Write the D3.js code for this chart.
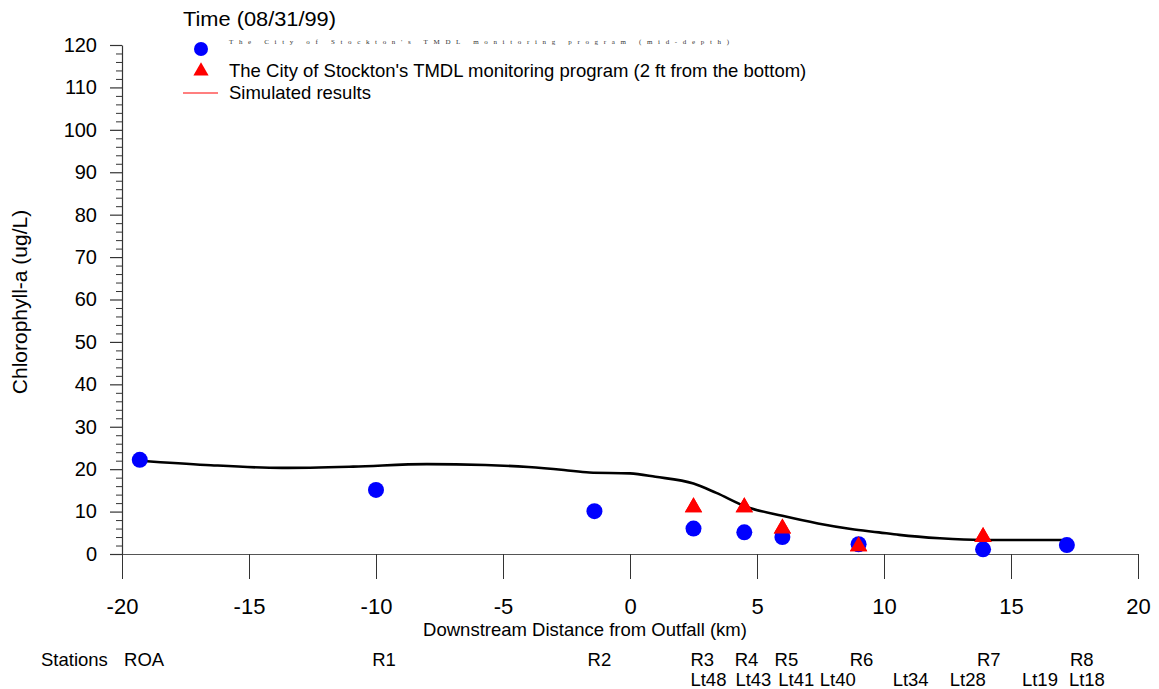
<!DOCTYPE html>
<html>
<head>
<meta charset="utf-8">
<script src="https://cdn.jsdelivr.net/npm/d3@7"></script>
<style>
  html, body { margin: 0; padding: 0; background: #fff; }
  svg { display: block; font-family: "Liberation Sans", Arial, sans-serif; }
</style>
</head>
<body>
<svg id="chart" width="1159" height="689"></svg>
<script>
// Observed chlorophyll-a, mid-depth samples (km downstream of outfall, ug/L)
const midDepthKm  = [-19.3, -10.0, -1.4, 2.5, 4.5, 6.0, 9.0, 13.9, 17.2];
const midDepthChl = [22.2, 15.1, 10.1, 6.0, 5.1, 4.0, 2.3, 1.1, 2.1];

// Observed chlorophyll-a, 2 ft from the bottom
const bottomKm  = [2.5, 4.5, 6.0, 9.0, 13.9];
const bottomChl = [11.0, 11.0, 6.0, 1.8, 4.0];

// Simulated chlorophyll-a profile
const simKm  = [-19.3, -16.7, -13.7, -10.9, -8.0, -5.7, -4.0, -2.6, -1.6, 0.0, 1.0, 2.5, 3.4, 4.6, 6.0, 7.4, 8.7, 9.8, 10.6, 12.2, 13.8, 17.2];
const simChl = [22.0, 21.0, 20.3, 20.6, 21.2, 21.0, 20.5, 19.8, 19.2, 19.0, 18.2, 16.6, 14.4, 11.1, 9.0, 7.2, 5.9, 5.1, 4.5, 3.7, 3.3, 3.3];

// Axis ticks
const xTicks = [-20, -15, -10, -5, 0, 5, 10, 15, 20];
const yTicks = [0, 10, 20, 30, 40, 50, 60, 70, 80, 90, 100, 110, 120];

// Station names along the river (label position in km)
const stationTop    = ["ROA", "R1", "R2", "R3", "R4", "R5", "R6", "R7", "R8"];
const stationTopKm  = [-19.92, -10.15, -1.67, 2.38, 4.12, 5.69, 8.65, 13.66, 17.32];
const stationBot    = ["Lt48", "Lt43", "Lt41", "Lt40", "Lt34", "Lt28", "Lt19", "Lt18"];
const stationBotKm  = [2.38, 4.15, 5.84, 7.47, 10.34, 12.59, 15.43, 17.28];

const svg = d3.select("#chart");

const x = d3.scaleLinear().domain([-20, 20]).range([122, 1138]);
const y = d3.scaleLinear().domain([0, 120]).range([554, 45]);

// plain ASCII hyphen for negative numbers
const fmt = d => String(d);

// ---- Y axis: major + minor ticks ----
const yMinor = d3.range(0, 121, 2).filter(v => v % 10 !== 0);
const gyMinor = svg.append("g").attr("transform", "translate(122,0)")
  .call(d3.axisLeft(y).tickValues(yMinor).tickSize(6).tickFormat(""));
gyMinor.select(".domain").remove();
gyMinor.selectAll("line").attr("stroke", "#333").attr("stroke-width", 1);

const gy = svg.append("g").attr("transform", "translate(122,0)")
  .call(d3.axisLeft(y).tickValues(yTicks).tickFormat(fmt).tickSize(12).tickSizeOuter(0).tickPadding(13));
gy.select(".domain").attr("stroke", "#333").attr("stroke-width", 1.2);
gy.selectAll("line").attr("stroke", "#333").attr("stroke-width", 1.2);
gy.selectAll("text").attr("font-size", 20).attr("fill", "#000")
  .attr("font-family", "Liberation Sans, Arial, sans-serif");

// ---- X axis: horizontal line at zero, ticks hanging below ----
const gx = svg.append("g").attr("transform", "translate(0,554)")
  .call(d3.axisBottom(x).tickValues(xTicks).tickFormat(fmt).tickSize(25).tickSizeOuter(0).tickPadding(19));
gx.select(".domain").attr("stroke", "#555").attr("stroke-width", 1.2);
gx.selectAll("line").attr("stroke", "#333").attr("stroke-width", 1);
gx.selectAll("text").attr("font-size", 22).attr("fill", "#000")
  .attr("font-family", "Liberation Sans, Arial, sans-serif");

// Axis titles
svg.append("text")
  .attr("x", 585).attr("y", 636)
  .attr("text-anchor", "middle").attr("font-size", 18.5)
  .text("Downstream Distance from Outfall (km)");

svg.append("text")
  .attr("transform", "translate(27,302) rotate(-90)")
  .attr("text-anchor", "middle").attr("font-size", 21)
  .text("Chlorophyll-a (ug/L)");

// ---- Stations ----
svg.append("text").attr("x", 41).attr("y", 666).attr("font-size", 18.5).text("Stations");
svg.append("g").selectAll("text").data(stationTop).join("text")
  .attr("x", (d, i) => x(stationTopKm[i])).attr("y", 666)
  .attr("font-size", 18.5).text(d => d);
svg.append("g").selectAll("text").data(stationBot).join("text")
  .attr("x", (d, i) => x(stationBotKm[i])).attr("y", 686)
  .attr("font-size", 18.5).text(d => d);

// ---- Simulated line ----
const simData = simKm.map((k, i) => [k, simChl[i]]);
svg.append("path")
  .datum(simData)
  .attr("fill", "none")
  .attr("stroke", "#000")
  .attr("stroke-width", 2.6)
  .attr("stroke-linejoin", "round")
  .attr("d", d3.line().x(d => x(d[0])).y(d => y(d[1])).curve(d3.curveMonotoneX));

// ---- Observations ----
const tri = d3.symbol().type(d3.symbolTriangle).size(130);
svg.append("g").selectAll("path").data(bottomKm).join("path")
  .attr("d", tri)
  .attr("transform", (d, i) => `translate(${x(d)},${y(bottomChl[i])})`)
  .attr("fill", "#ff0000");

svg.append("g").selectAll("circle").data(midDepthKm).join("circle")
  .attr("cx", d => x(d))
  .attr("cy", (d, i) => y(midDepthChl[i]))
  .attr("r", 8)
  .attr("fill", "#0000ff");

// Triangles drawn on top where they overlap circles at R5/R6/R7
svg.append("g").selectAll("path").data(bottomKm).join("path")
  .attr("d", tri)
  .attr("transform", (d, i) => `translate(${x(d)},${y(bottomChl[i])})`)
  .attr("fill", "#ff0000");

// ---- Legend ----
svg.append("text").attr("x", 183).attr("y", 26).attr("font-size", 20)
  .attr("textLength", 153).attr("lengthAdjust", "spacingAndGlyphs")
  .text("Time (08/31/99)");

svg.append("circle").attr("cx", 201).attr("cy", 49).attr("r", 7).attr("fill", "#0000ff");
svg.append("text").attr("x", 229).attr("y", 44)
  .attr("font-family", "Liberation Serif, Times New Roman, serif")
  .attr("font-size", 7).attr("fill", "#333")
  .attr("textLength", 500).attr("lengthAdjust", "spacing")
  .text("The City of Stockton's TMDL monitoring program (mid-depth)");

svg.append("path").attr("d", d3.symbol().type(d3.symbolTriangle).size(100))
  .attr("transform", "translate(201,71)").attr("fill", "#ff0000");
svg.append("text").attr("x", 229).attr("y", 77).attr("font-size", 18.5)
  .text("The City of Stockton's TMDL monitoring program (2 ft from the bottom)");

svg.append("line").attr("x1", 183).attr("x2", 218).attr("y1", 93).attr("y2", 93)
  .attr("stroke", "#ff0000").attr("stroke-width", 1.2);
svg.append("text").attr("x", 229).attr("y", 99).attr("font-size", 18.5).text("Simulated results");
</script>
</body>
</html>
